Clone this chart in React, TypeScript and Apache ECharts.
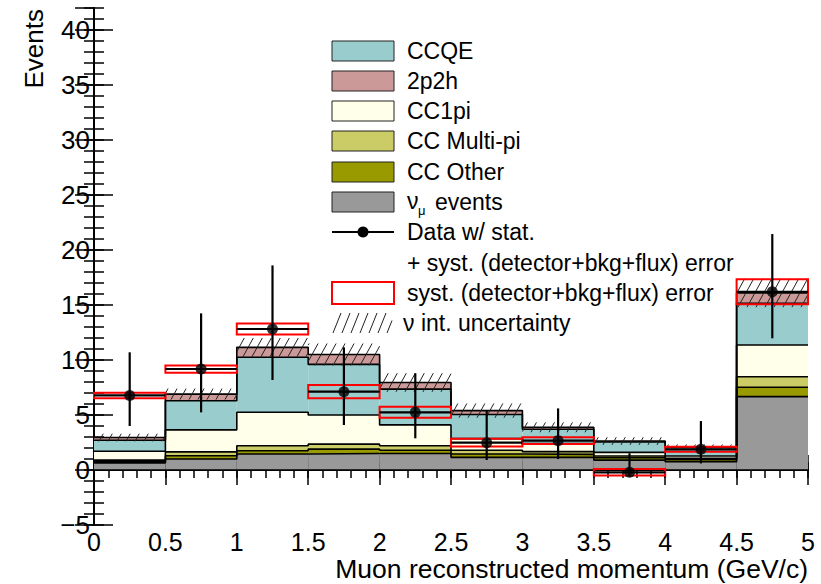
import React, { useEffect, useRef } from "react";
import * as echarts from "echarts";

// Muon momentum bins (GeV/c)
const binEdges = [0, 0.5, 1, 1.5, 2, 2.5, 3, 3.5, 4, 4.5, 5];

// Predicted event counts per bin, stacked bottom to top
const numuEvents = [0.65, 1.0, 1.45, 1.5, 1.5, 1.15, 1.15, 0.9, 0.76, 6.67];
const ccOther = [0.1, 0.3, 0.3, 0.4, 0.3, 0.3, 0.27, 0.22, 0.2, 0.85];
const ccMultiPi = [0.15, 0.35, 0.45, 0.45, 0.4, 0.35, 0.25, 0.15, 0.1, 0.96];
const cc1pi = [0.8, 2.0, 3.05, 2.65, 1.9, 1.05, 0.73, 0.33, 0.21, 2.88];
const ccqe = [1.0, 2.65, 5.0, 4.6, 3.25, 2.2, 1.3, 0.95, 0.78, 3.79];
const twoP2h = [0.25, 0.6, 0.9, 0.9, 0.6, 0.35, 0.18, 0.08, 0.07, 0.95];

// Neutrino interaction uncertainty (half-width around the stack total)
const nuIntUnc = [0.35, 0.5, 0.85, 1.0, 0.85, 0.65, 0.45, 0.35, 0.2, 1.3];

// Observed data with stat+syst error bars and syst-only error
const dataValues = [6.78, 9.18, 12.82, 7.12, 5.24, 2.48, 2.67, -0.21, 1.88, 16.2];
const dataErrDown = [2.78, 3.94, 4.64, 3.03, 2.36, 1.57, 1.67, 0.39, 1.28, 4.23];
const dataErrUp = [3.92, 5.06, 5.78, 4.03, 3.55, 2.97, 2.93, 1.73, 2.57, 5.25];
const systErr = [0.25, 0.33, 0.5, 0.6, 0.5, 0.35, 0.3, 0.29, 0.23, 1.13];

// Axis ranges
const yMin = -5;
const yMax = 42;
const xMin = 0;
const xMax = 5;

const FONT = '"Liberation Sans", Arial, Helvetica, sans-serif';

const layers = [
  { name: "νμ events", values: numuEvents, color: "#999999" },
  { name: "CC Other", values: ccOther, color: "#999900" },
  { name: "CC Multi-pi", values: ccMultiPi, color: "#cccc66" },
  { name: "CC1pi", values: cc1pi, color: "#ffffea" },
  { name: "CCQE", values: ccqe, color: "#99cccc" },
  { name: "2p2h", values: twoP2h, color: "#cc9999" },
];

function hatchSegments(L: number, R: number, T: number, B: number, spacing: number, slope: number) {
  const h = B - T;
  const out: number[][] = [];
  if (h <= 0 || R <= L) return out;
  const start = Math.floor((L - h * slope) / spacing) * spacing;
  for (let c = start; c <= R; c += spacing) {
    let x1 = c, y1 = B, x2 = c + h * slope, y2 = T;
    if (x1 < L) { y1 = B - (L - c) / slope; x1 = L; }
    if (x2 > R) { y2 = B - (R - c) / slope; x2 = R; }
    if (x2 <= x1 || y1 <= y2) continue;
    out.push([x1, y1, x2, y2]);
  }
  return out;
}

export default function App() {
  const ref = useRef<HTMLDivElement>(null);

  useEffect(() => {
    if (!ref.current) return;
    const chart = echarts.init(ref.current, null, { renderer: "svg" });

    // cumulative bases and tops
    const bases: number[][] = [];
    const tops: number[][] = [];
    let running = binEdges.slice(0, -1).map(() => 0);
    layers.forEach((layer) => {
      bases.push(running.slice());
      running = running.map((v, i) => v + layer.values[i]);
      tops.push(running.slice());
    });
    const total = tops[tops.length - 1];
    const centers = binEdges.slice(0, -1).map((e, i) => (e + binEdges[i + 1]) / 2);

    const rectRender = (fill: string | null, stroke: string | null, lw: number) =>
      (params: any, api: any) => {
        const p0 = api.coord([api.value(0), api.value(2)]);
        const p1 = api.coord([api.value(1), api.value(3)]);
        return {
          type: "rect",
          shape: { x: p0[0], y: p1[1], width: p1[0] - p0[0], height: p0[1] - p1[1] },
          style: { fill: fill || "none", stroke: stroke || "none", lineWidth: lw },
        };
      };

    const stackSeries = layers.map((layer, k) => ({
      type: "custom",
      name: layer.name,
      z: 1,
      silent: true,
      renderItem: rectRender(layer.color, null, 0),
      data: layer.values.map((_, i) => [binEdges[i], binEdges[i + 1], bases[k][i], tops[k][i]]),
    }));

    const outlineSeries = tops.map((t) => ({
      type: "line",
      z: 2,
      silent: true,
      step: "end",
      symbol: "none",
      showSymbol: false,
      lineStyle: { color: "#000", width: 1.6 },
      data: [...t.map((v, i) => [binEdges[i], v]), [binEdges[binEdges.length - 1], t[t.length - 1]]],
    }));

    const zeroLine = {
      type: "line",
      z: 2,
      silent: true,
      symbol: "none",
      lineStyle: { color: "#000", width: 1.6 },
      data: [[xMin, 0], [xMax, 0]],
    };

    const hatchSeries = {
      type: "custom",
      z: 3,
      silent: true,
      renderItem: (params: any, api: any) => {
        const p0 = api.coord([api.value(0), api.value(2)]);
        const p1 = api.coord([api.value(1), api.value(3)]);
        const segs = hatchSegments(p0[0], p1[0], p1[1], p0[1], 9, 0.55);
        return {
          type: "group",
          children: segs.map((s) => ({
            type: "line",
            shape: { x1: s[0], y1: s[1], x2: s[2], y2: s[3] },
            style: { stroke: "#222", lineWidth: 1 },
          })),
        };
      },
      data: total.map((t, i) => [binEdges[i], binEdges[i + 1], t - nuIntUnc[i], t + nuIntUnc[i]]),
    };

    const systSeries = {
      type: "custom",
      z: 4,
      silent: true,
      renderItem: rectRender(null, "#ff0000", 2),
      data: dataValues.map((v, i) => [binEdges[i], binEdges[i + 1], v - systErr[i], v + systErr[i]]),
    };

    const errorSeries = {
      type: "custom",
      z: 5,
      silent: true,
      renderItem: (params: any, api: any) => {
        const x0 = api.value(0), x1 = api.value(1), xc = api.value(2);
        const v = api.value(3), lo = api.value(4), hi = api.value(5);
        const a = api.coord([xc, lo]);
        const b = api.coord([xc, hi]);
        const l = api.coord([x0, v]);
        const r = api.coord([x1, v]);
        return {
          type: "group",
          children: [
            { type: "line", shape: { x1: a[0], y1: a[1], x2: b[0], y2: b[1] }, style: { stroke: "#000", lineWidth: 2.2 } },
            { type: "line", shape: { x1: l[0], y1: l[1], x2: r[0], y2: r[1] }, style: { stroke: "#000", lineWidth: 2.2 } },
          ],
        };
      },
      data: dataValues.map((v, i) => [binEdges[i], binEdges[i + 1], centers[i], v, v - dataErrDown[i], v + dataErrUp[i]]),
    };

    const dataPoints = {
      type: "scatter",
      z: 6,
      silent: true,
      symbol: "circle",
      symbolSize: 11,
      itemStyle: { color: "#000" },
      data: dataValues.map((v, i) => [centers[i], v]),
    };

    const axisLineStyle = { show: true, lineStyle: { color: "#000", width: 2 } };
    const makeY = (position: string, interval: number, len: number, labels: boolean) => ({
      type: "value",
      min: yMin,
      max: yMax,
      interval,
      position,
      axisLine: axisLineStyle,
      axisTick: { show: true, inside: true, length: len, lineStyle: { color: "#000", width: 1.5 } },
      axisLabel: labels
        ? {
            show: true,
            showMaxLabel: false,
            color: "#000",
            fontFamily: FONT,
            fontSize: 26,
            lineHeight: 24,
            margin: 4,
            formatter: (v: number) => (v < 0 ? "\u2212" + Math.abs(v) : String(v)),
          }
        : { show: false },
      splitLine: { show: false },
    });
    const makeX = (position: string, interval: number, len: number, labels: boolean) => ({
      type: "value",
      min: xMin,
      max: xMax,
      interval,
      position,
      axisLine: axisLineStyle,
      axisTick: { show: true, inside: true, length: len, lineStyle: { color: "#000", width: 1.5 } },
      axisLabel: labels
        ? {
            show: true,
            color: "#000",
            fontFamily: FONT,
            fontSize: 25,
            lineHeight: 24,
            margin: 5,
            formatter: (v: number) => String(v),
          }
        : { show: false },
      splitLine: { show: false },
    });

    // Legend drawn as graphic elements
    const legendX = 332;
    const boxW = 62;
    const textX = 407;
    const legendFont = { fontFamily: FONT, fontSize: 23, fill: "#000" };
    const rowY = [51, 81, 111, 141, 172, 202, 232, 263, 293, 323];
    const boxEntries = [
      { label: "CCQE", color: "#99cccc" },
      { label: "2p2h", color: "#cc9999" },
      { label: "CC1pi", color: "#ffffea" },
      { label: "CC Multi-pi", color: "#cccc66" },
      { label: "CC Other", color: "#999900" },
    ];
    const graphics: any[] = [];
    boxEntries.forEach((e, i) => {
      graphics.push({
        type: "rect",
        shape: { x: legendX, y: rowY[i] - 10, width: boxW, height: 20 },
        style: { fill: e.color, stroke: "#222", lineWidth: 1 },
      });
      graphics.push({
        type: "text",
        x: textX,
        y: rowY[i],
        style: { text: e.label, ...legendFont, verticalAlign: "middle", align: "left" },
      });
    });
    graphics.push({
      type: "rect",
      shape: { x: legendX, y: rowY[5] - 10, width: boxW, height: 20 },
      style: { fill: "#999999", stroke: "#222", lineWidth: 1 },
    });
    graphics.push({ type: "text", x: textX, y: rowY[5] - 1, style: { text: "ν", ...legendFont, verticalAlign: "middle" } });
    graphics.push({ type: "text", x: textX + 11, y: rowY[5] + 8, style: { text: "μ", fontFamily: FONT, fontSize: 13, fill: "#000", verticalAlign: "middle" } });
    graphics.push({ type: "text", x: textX + 28, y: rowY[5], style: { text: "events", ...legendFont, verticalAlign: "middle" } });
    graphics.push({
      type: "line",
      shape: { x1: legendX, y1: rowY[6], x2: legendX + boxW, y2: rowY[6] },
      style: { stroke: "#000", lineWidth: 2 },
    });
    graphics.push({ type: "circle", shape: { cx: legendX + 31, cy: rowY[6], r: 5.5 }, style: { fill: "#000" } });
    graphics.push({ type: "text", x: textX, y: rowY[6], style: { text: "Data w/ stat.", ...legendFont, verticalAlign: "middle" } });
    graphics.push({
      type: "text",
      x: textX,
      y: rowY[7],
      style: { text: "+ syst. (detector+bkg+flux) error", ...legendFont, verticalAlign: "middle" },
    });
    graphics.push({
      type: "rect",
      shape: { x: legendX, y: rowY[8] - 11, width: boxW, height: 22 },
      style: { fill: "none", stroke: "#ff0000", lineWidth: 2 },
    });
    graphics.push({
      type: "text",
      x: textX,
      y: rowY[8],
      style: { text: "syst. (detector+bkg+flux) error", ...legendFont, verticalAlign: "middle" },
    });
    hatchSegments(legendX, legendX + 60, rowY[9] - 10, rowY[9] + 10, 9, 0.4).forEach((s) => {
      graphics.push({
        type: "line",
        shape: { x1: s[0], y1: s[1], x2: s[2], y2: s[3] },
        style: { stroke: "#222", lineWidth: 1 },
      });
    });
    graphics.push({ type: "text", x: textX - 4, y: rowY[9], style: { text: "ν int. uncertainty", ...legendFont, verticalAlign: "middle" } });

    // Axis titles
    graphics.push({
      type: "text",
      x: 34,
      y: 9,
      rotation: Math.PI / 2,
      style: { text: "Events", fontFamily: FONT, fontSize: 26, lineHeight: 26, fill: "#000", align: "right", verticalAlign: "middle" },
    });
    graphics.push({
      type: "text",
      x: 808,
      y: 569,
      style: {
        text: "Muon reconstructed momentum (GeV/c)",
        fontFamily: FONT,
        fontSize: 26.5,
        lineHeight: 24,
        fill: "#000",
        align: "right",
        verticalAlign: "middle",
      },
    });

    chart.setOption({
      animation: false,
      backgroundColor: "#fff",
      grid: { left: 94, right: 13, top: 8, bottom: 59, containLabel: false },
      xAxis: [
        makeX("bottom", 0.5, 15, true),
        makeX("bottom", 0.1, 8, false),
        makeX("top", 0.5, 15, false),
        makeX("top", 0.1, 8, false),
      ],
      yAxis: [
        makeY("left", 5, 19, true),
        makeY("left", 1, 10, false),
        makeY("right", 5, 19, false),
        makeY("right", 1, 10, false),
      ],
      series: [...stackSeries, ...outlineSeries, zeroLine, hatchSeries, systSeries, errorSeries, dataPoints],
      graphic: graphics,
    } as any);

    return () => chart.dispose();
  }, []);

  return <div ref={ref} style={{ position: "fixed", left: 0, top: 0, width: 821, height: 584 }} />;
}
